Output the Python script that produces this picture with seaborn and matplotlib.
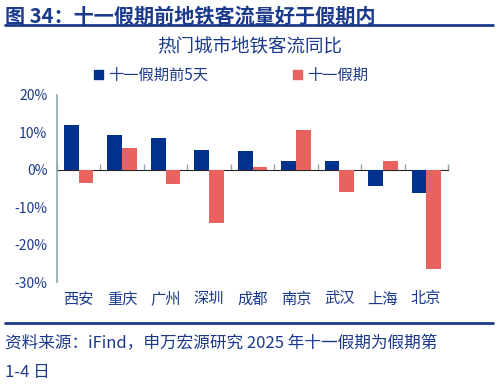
import matplotlib
matplotlib.use("Agg")
import matplotlib.pyplot as plt
import seaborn as sns
import pandas as pd
from matplotlib.patches import Patch
from matplotlib.lines import Line2D

# data
cities = ['西安', '重庆', '广州', '深圳', '成都', '南京', '武汉', '上海', '北京']
before_holiday = [12.0, 9.4, 8.5, 5.3, 5.1, 2.3, 2.3, -4.2, -6.1]
holiday = [-3.5, 5.7, -3.7, -14.2, 0.7, 10.7, -6.0, 2.3, -26.6]
series_names = ['十一假期前5天', '十一假期']

blue = '#00318C'
red = '#E8625F'
text_blue = '#1B3A8C'
spine_col = '#8BA6B2'

df = pd.DataFrame({
    'city': cities * 2,
    'value': before_holiday + holiday,
    'series': [series_names[0]] * len(cities) + [series_names[1]] * len(cities),
})

sns.set_style('white')
plt.rcParams['font.family'] = ['Noto Sans CJK SC', 'DejaVu Sans']

fig = plt.figure(figsize=(5, 3.86), dpi=100)
ax = fig.add_axes([0.114, 0.269, 0.782, 0.485])

sns.barplot(data=df, x='city', y='value', hue='series', order=cities,
            hue_order=series_names, palette=[blue, red], width=0.68,
            gap=0, saturation=1, linewidth=0, ax=ax, legend=False)

ax.set_ylim(-30, 20)
ax.set_xlim(-0.5, len(cities) - 0.5)
ax.set_yticks([-30, -20, -10, 0, 10, 20])
ax.set_yticklabels([f'{v}%' for v in [-30, -20, -10, 0, 10, 20]],
                   color=text_blue, fontsize=10)
ax.set_xticks(range(len(cities)))
ax.set_xticklabels(cities, color=text_blue, fontsize=11)
ax.tick_params(axis='x', length=0, pad=6)
ax.tick_params(axis='y', length=4, width=1, color=spine_col, direction='out', pad=3)
ax.set_xlabel('')
ax.set_ylabel('')
for s in ['top', 'right', 'bottom']:
    ax.spines[s].set_visible(False)
ax.spines['left'].set_color(spine_col)
ax.spines['left'].set_linewidth(1.2)

# zero line with ticks between categories
sec = ax.secondary_xaxis(0.6)
sec.set_xticks([i - 0.5 for i in range(len(cities) + 1)])
sec.set_xticklabels([])
sec.tick_params(length=4, width=1, color=spine_col, direction='out')
sec.spines['bottom'].set_color(spine_col)
sec.spines['bottom'].set_linewidth(1.2)

# headings
fig.text(0.01, 0.957, '图 34：十一假期前地铁客流量好于假期内', fontsize=14.5,
         fontweight='bold', color=text_blue, va='center')
fig.add_artist(Line2D([0.01, 0.986], [0.934, 0.934], color=text_blue, lw=2))
fig.text(0.5, 0.878, '热门城市地铁客流同比', fontsize=13.3, color=text_blue,
         ha='center', va='center')

handles = [Patch(color=blue), Patch(color=red)]
fig.legend(handles, series_names, loc='center', bbox_to_anchor=(0.462, 0.805),
           ncol=2, frameon=False, fontsize=11, handlelength=0.6,
           handleheight=0.6, handletextpad=0.3, columnspacing=5.6,
           labelcolor=text_blue)

fig.add_artist(Line2D([0.01, 0.986], [0.163, 0.163], color=text_blue, lw=2))
fig.text(0.01, 0.11, '资料来源：iFind，申万宏源研究 2025 年十一假期为假期第',
         fontsize=12, color=text_blue, va='center')
fig.text(0.01, 0.035, '1-4 日', fontsize=12, color=text_blue, va='center')

fig.savefig('out.png', dpi=100)
